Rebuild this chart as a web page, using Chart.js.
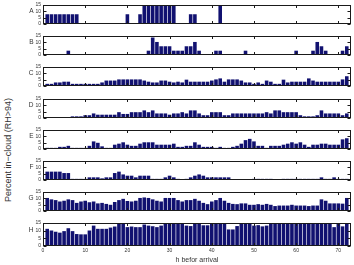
<!DOCTYPE html>
<html><head><meta charset="utf-8">
<script src="https://cdn.jsdelivr.net/npm/chart.js@4"></script>
<style>
html,body{margin:0;padding:0;background:#fff;}
#wrap{position:relative;width:354px;height:265px;overflow:hidden;background:#fff;}
.pc{position:absolute;left:0;width:354px;}
.pc canvas{display:block;}
#ytitle{position:absolute;left:-92px;top:144px;width:200px;height:12px;line-height:12px;text-align:center;
  font-family:"Liberation Sans",Arial,sans-serif;font-size:9px;color:#333;transform:rotate(-90deg);white-space:nowrap;}
</style></head><body>
<div id="wrap"><div id="ytitle">Percent in−cloud (RH&gt;94)</div></div>
<script>
const hours=[1,2,3,4,5,6,7,8,9,10,11,12,13,14,15,16,17,18,19,20,21,22,23,24,25,26,27,28,29,30,31,32,33,34,35,36,
  37,38,39,40,41,42,43,44,45,46,47,48,49,50,51,52,53,54,55,56,57,58,59,60,61,62,63,64,65,66,67,68,69,70,71,72];
const panelLabels=['A','B','C','D','E','F','G','H'];
const xTicks=[0,10,20,30,40,50,60,70];
const yTicks=[0,5,10,15];
const xTitle='h befor arrival';

const seriesA=[7.7,7.7,7.7,7.7,7.7,7.7,7.7,7.7,0,0, 0,0,0,0,0,0,0,0,0,7.7, 0,0,7.7,15,15,15,15,15,15,15,
  15,0,0,0,7.7,7.7,0,0,0,0, 0,15,0,0,0,0,0,0,0,0, 0,0,0,0,0,0,0,0,0,0, 0,0,0,0,0,0,0,0,0,0,0,0];
const seriesB=[0,0,0,0,0,3.4,0,0,0,0, 0,0,0,0,0,0,0,0,0,0, 0,0,0,0,3.4,13.8,10.3,6.9,6.9,6.9,
  3.4,3.4,3.4,6.9,6.9,10.3,3.4,0,0,0, 3.4,3.4,0,0,0,0,0,3.4,0,0, 0,0,0,0,0,0,0,0,0,3.4,
  0,0,0,3.4,10.3,6.9,3.4,0,0,0,3.4,6.9];
const seriesC=[1.7,1.7,2.8,2.8,3.4,3.4,1.7,1.7,1.7,1.7, 1.7,1.7,1.7,2.8,4.3,4.3,4.3,5.2,5.2,5.2,
  5.2,5.2,5.2,4.3,3.4,2.8,2.8,4.3,4.3,3.4, 2.8,3.4,2.8,5.0,3.4,3.4,3.4,3.4,3.4,4.3,
  5.2,6.0,3.4,5.2,5.2,5.2,4.3,2.8,2.8,1.7, 2.8,1.7,4.3,3.4,1.7,1.7,5.0,2.8,3.4,3.4,
  3.4,3.4,6.0,4.3,3.4,3.4,3.4,3.4,3.4,3.4,5.2,7.7];
const seriesD=[0,0,0,0,0,0,1.3,1.3,1.3,2.2, 2.2,3.6,2.6,2.6,2.6,2.6,2.6,4.6,3.2,3.2,
  4.6,4.6,4.6,6.0,4.6,6.0,3.6,3.6,3.6,2.6, 3.6,3.6,4.6,3.6,6.0,6.0,3.6,2.2,2.2,4.6,
  4.6,4.6,2.2,2.2,3.6,3.6,3.6,3.6,3.6,3.6, 3.6,3.6,4.6,3.6,6.0,6.0,4.6,4.6,4.6,4.6,
  2.2,1.3,1.3,1.3,2.2,6.0,3.6,3.6,3.6,3.6,2.2,3.6];
const seriesE=[0.9,0.9,0.9,1.7,1.7,2.5,0.9,0.9,0.9,0.9, 2.5,6.0,4.9,2.1,0.9,0.9,3.4,4.2,5.3,3.4,
  2.5,2.5,4.2,5.3,5.3,5.3,3.4,3.4,3.4,3.4, 4.2,1.7,1.7,2.5,2.5,5.3,3.4,1.7,1.7,1.7,
  0.9,1.7,0.9,0.9,1.7,2.5,4.2,7.0,8.0,6.0, 2.5,2.5,0.9,2.5,2.5,2.5,3.4,4.2,5.3,4.2,
  5.3,3.4,1.7,3.4,3.4,4.2,4.2,3.4,3.4,3.4,7.6,8.5];
const seriesF=[6.6,6.6,6.6,6.6,5.5,5.5,0.9,0.9,0.9,0.9, 2.1,2.1,2.1,1.3,2.1,2.1,5.5,6.6,4.4,3.4,
  3.4,2.1,3.4,3.4,3.4,0.9,0.9,0.9,2.1,3.4, 2.1,0.9,0,0.9,2.1,3.4,4.4,3.4,2.1,2.1,
  2.1,2.1,2.1,2.1,0,0,0,0,0,0.9, 0.9,0.9,0.9,0.9,0,0,0.9,0.9,0.9,0.9,
  0.9,0.9,0.9,0.9,0.9,2.1,0.9,0.9,2.1,0.9,0.9,0.9];
const seriesG=[10.3,9.2,8.6,7.5,8.1,9.2,8.6,6.4,7.5,8.1, 6.9,7.5,6.0,6.4,5.6,4.9,7.1,8.6,9.6,7.9,
  7.5,8.1,10.3,10.7,10.3,9.2,8.1,7.5,10.3,10.3, 10.3,8.6,7.5,8.6,8.6,9.6,8.1,6.4,5.4,7.5,
  8.6,10.3,8.1,6.4,5.6,5.4,6.0,6.0,4.9,4.9, 5.4,4.9,5.6,4.9,3.9,4.3,4.3,4.3,4.9,4.3,
  4.3,4.3,3.9,4.3,4.3,9.2,8.1,6.0,6.0,6.0,5.8,10.3];
const seriesH=[11.2,10.1,9.3,8.7,9.7,11.6,9.7,7.8,7.6,7.6, 10.1,13.3,11.2,11.2,11.2,12.0,12.7,14.4,14.8,12.3,
  12.7,12.3,12.3,14.0,13.3,12.9,12.3,13.3,15,15, 15,15,15,13.3,13.0,15,15,13.5,13.5,14.4,
  14.6,15,14.5,10.8,10.8,13.0,14.5,15,15,13.3, 13.6,12.8,13.3,15,15,15,15,15,15,15,
  15,15,15,15,15,15,15,15,12.3,14.8,12.8,14.6];
const allSeries=[seriesA,seriesB,seriesC,seriesD,seriesE,seriesF,seriesG,seriesH];

Chart.defaults.font.family='"Liberation Sans", Arial, Helvetica, sans-serif';
const panelTops=[4,35,66,98,129,160,191,222];
const plotH=24;
const wrap=document.getElementById('wrap');

const framePlugin={
  id:'frame',
  afterDatasetsDraw(chart,args,opts){
    const {ctx,chartArea:a,scales:{x,y}}=chart;
    ctx.save();
    ctx.strokeStyle='#1a1a1a';ctx.lineWidth=1;
    const L=Math.round(a.left)+0.5,R=Math.round(a.right)-0.5,T=Math.round(a.top)+0.5,B=Math.round(a.bottom)-0.5;
    ctx.strokeRect(L,T,R-L,B-T);
    ctx.beginPath();
    xTicks.forEach(v=>{
      const px=Math.round(x.getPixelForValue(v))+0.5;
      ctx.moveTo(px,T);ctx.lineTo(px,T+2.5);
      ctx.moveTo(px,B);ctx.lineTo(px,B-2.5);
    });
    yTicks.forEach(v=>{
      const py=Math.round(y.getPixelForValue(v))+0.5;
      ctx.moveTo(L,py);ctx.lineTo(L+3,py);
      ctx.moveTo(R,py);ctx.lineTo(R-3,py);
    });
    ctx.stroke();
    ctx.fillStyle='#333';
    ctx.font='6.5px "Liberation Sans", Arial, sans-serif';
    ctx.textAlign='right';ctx.textBaseline='middle';
    ctx.fillText(opts.letter,a.left-9.5,y.getPixelForValue(10));
    ctx.restore();
  }
};

panelLabels.forEach((letter,idx)=>{
  const isLast=idx===panelLabels.length-1;
  const cTop=panelTops[idx]-4;
  const cH=isLast?265-cTop:plotH+8;
  const div=document.createElement('div');
  div.className='pc';
  div.style.top=cTop+'px';div.style.height=cH+'px';
  const canvas=document.createElement('canvas');
  canvas.width=354;canvas.height=cH;
  canvas.style.width='354px';canvas.style.height=cH+'px';
  div.appendChild(canvas);wrap.appendChild(div);
  const vals=allSeries[idx];
  new Chart(canvas,{
    type:'bar',
    data:{datasets:[{
      data:hours.map((h,i)=>({x:h,y:vals[i]})),
      backgroundColor:'#111170',borderWidth:0,
      barPercentage:0.85,categoryPercentage:1
    }]},
    options:{
      responsive:false,animation:false,devicePixelRatio:1,
      layout:{padding:{left:0,right:3,top:4,bottom:isLast?0:4}},
      plugins:{legend:{display:false},tooltip:{enabled:false},frame:{letter:letter}},
      scales:{
        x:{type:'linear',min:0,max:73,offset:false,display:isLast,
          grid:{display:false,drawTicks:false,offset:false},border:{display:false},
          afterBuildTicks:s=>{s.ticks=xTicks.map(v=>({value:v}));},
          ticks:{font:{size:5},color:'#333',padding:2,maxRotation:0,autoSkip:false},
          title:{display:true,text:xTitle,font:{size:7},color:'#333',padding:{top:0,bottom:1}},
          afterFit:s=>{s.height=cH-4-plotH;}
        },
        y:{min:0,max:15,
          grid:{display:false,drawTicks:false},border:{display:false},
          afterBuildTicks:s=>{s.ticks=yTicks.map(v=>({value:v}));},
          ticks:{font:{size:5},color:'#333',padding:2,autoSkip:false},
          afterFit:s=>{s.width=43;}
        }
      }
    },
    plugins:[framePlugin]
  });
});
</script>
</body></html>
